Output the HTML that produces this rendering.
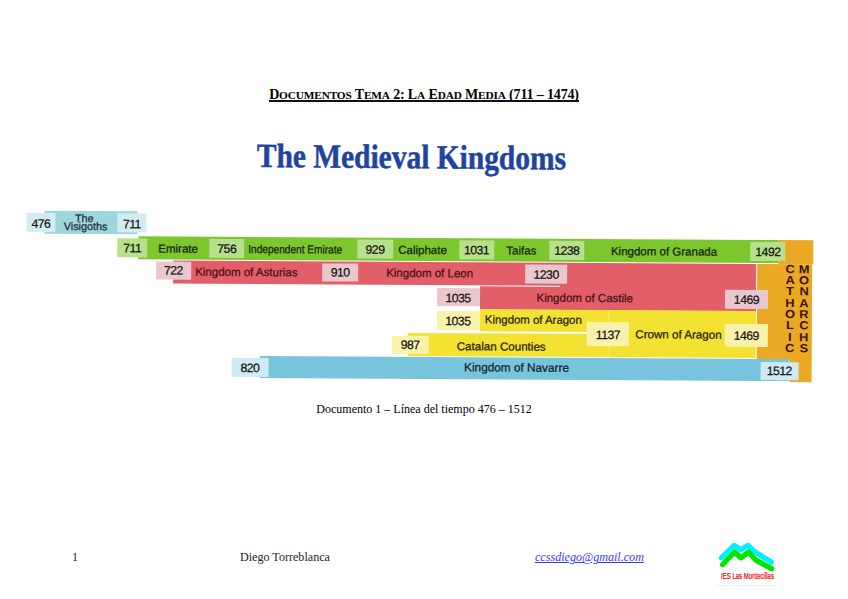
<!DOCTYPE html>
<html><head><meta charset="utf-8">
<style>
*{margin:0;padding:0;box-sizing:border-box}
html,body{width:848px;height:599px;background:#fff;overflow:hidden}
body{position:relative;font-family:"Liberation Serif",serif;color:#000}
.a{position:absolute}
#hdr{left:0;width:848px;top:86.8px;text-align:center;font-weight:bold;font-size:14px;letter-spacing:-0.15px;white-space:nowrap}
#hdr s{text-decoration:none;font-size:11.3px}
#title{left:257.2px;top:136.6px;font-family:"Liberation Serif",serif;font-weight:bold;font-size:34px;color:#1f44a0;-webkit-text-stroke:0.5px #1f44a0;white-space:nowrap;transform-origin:0 0;transform:rotate(0.45deg) scaleX(0.866)}
#chart{left:0;top:0;width:848px;height:599px;transform:rotate(0.33deg);transform-origin:424px 300px}
.b{position:absolute}
.t{position:absolute;font-family:"Liberation Sans",sans-serif;font-size:11.5px;color:#141414;-webkit-text-stroke:0.25px #141414;white-space:nowrap;line-height:1;margin-top:0.9px}
.n{position:absolute;font-family:"Liberation Sans",sans-serif;font-size:12.2px;letter-spacing:-0.5px;color:#141414;-webkit-text-stroke:0.25px #141414;display:flex;align-items:center;justify-content:center;line-height:1;padding-top:1.2px}
#cap{left:0;width:848px;top:402px;text-align:center;font-size:12px;white-space:nowrap}
.f{position:absolute;font-size:12.1px;white-space:nowrap;top:550.2px;color:#262626}
</style></head><body>
<div class="a" id="hdr">D<s>OCUMENTOS</s> T<s>EMA</s> 2: L<s>A</s> E<s>DAD</s> M<s>EDIA</s> (711 – 1474)</div>
<div class="a" style="left:269px;top:100.1px;width:310px;height:1.5px;background:#111"></div>
<div class="a" id="title">The Medieval Kingdoms</div>

<div class="a" id="chart">
<!-- orange -->
<div class="b" style="left:777.5px;top:238.4px;width:35px;height:24px;background:#eaa823"></div>
<div class="b" style="left:756.8px;top:262px;width:55.6px;height:94.5px;background:#eaa823"></div>
<div class="b" style="left:789.7px;top:356px;width:22.7px;height:23.8px;background:#eaa823"></div>
<div class="a" style="left:784.6px;top:260.8px;width:10px;font-family:'Liberation Sans',sans-serif;font-weight:bold;font-size:11.7px;line-height:11.3px;text-align:center;color:#3a1410;transform:scaleX(1.1)">C<br>A<br>T<br>H<br>O<br>L<br>I<br>C</div>
<div class="a" style="left:798.7px;top:260.8px;width:10px;font-family:'Liberation Sans',sans-serif;font-weight:bold;font-size:11.7px;line-height:11.3px;text-align:center;color:#3a1410;transform:scaleX(1.1)">M<br>O<br>N<br>A<br>R<br>C<br>H<br>S</div>
<!-- Visigoths -->
<div class="b" style="left:44px;top:213px;width:93px;height:22.6px;background:#9dd7dc"></div>
<div class="n" style="left:26px;top:215px;width:29px;height:18.5px;background:#d2ecf1;padding-top:4.4px">476</div>
<div class="n" style="left:117px;top:215px;width:29px;height:18.5px;background:#d2ecf1;padding-top:4.4px">711</div>
<div class="t" style="left:74.5px;top:215.3px;font-size:10.8px;margin-top:0;color:#1d2c36;-webkit-text-stroke:0.25px #1d2c36">The</div>
<div class="t" style="left:63.4px;top:223.1px;font-size:10.8px;margin-top:0;color:#1d2c36;-webkit-text-stroke:0.25px #1d2c36">Visigoths</div>

<!-- green -->
<div class="b" style="left:137.5px;top:237.8px;width:640px;height:23px;background:#7cc62e"></div>
<div class="n" style="left:117px;top:239.9px;height:19.6px;width:30px;background:#b8e08a">711</div>
<div class="n" style="left:209px;top:239.9px;height:19.6px;width:35px;background:#b8e08a">756</div>
<div class="n" style="left:357px;top:239.9px;height:19.6px;width:35.5px;background:#b8e08a">929</div>
<div class="n" style="left:458.7px;top:239.9px;height:19.6px;width:35.3px;background:#b8e08a">1031</div>
<div class="n" style="left:548.7px;top:239.9px;height:19.6px;width:35.8px;background:#b8e08a">1238</div>
<div class="n" style="left:749.9px;top:239.9px;height:19.6px;width:35.5px;background:#b8e08a">1492</div>
<div class="t" style="left:158px;top:244px;color:#14240a;-webkit-text-stroke:0.25px #14240a">Emirate</div>
<div class="t" style="left:248px;top:244px;transform:scaleX(0.879);transform-origin:0 0;color:#14240a;-webkit-text-stroke:0.25px #14240a">Independent Emirate</div>
<div class="t" style="left:398px;top:244px;color:#14240a;-webkit-text-stroke:0.25px #14240a">Caliphate</div>
<div class="t" style="left:506px;top:244px;color:#14240a;-webkit-text-stroke:0.25px #14240a">Taifas</div>
<div class="t" style="left:610.7px;top:244px;color:#14240a;-webkit-text-stroke:0.25px #14240a">Kingdom of Granada</div>

<!-- red -->
<div class="b" style="left:172.5px;top:261.6px;width:388px;height:23px;background:#e25e69"></div>
<div class="b" style="left:479.5px;top:285.8px;width:276.5px;height:22.8px;background:#e25e69"></div>
<div class="b" style="left:560px;top:261.6px;width:196px;height:47px;background:#e25e69"></div>
<div class="n" style="left:155.5px;top:262.5px;width:35.5px;height:18.5px;background:#e9c7cd">722</div>
<div class="n" style="left:322px;top:263.5px;width:36px;height:18.5px;background:#e9c7cd">910</div>
<div class="n" style="left:525px;top:264px;width:42px;height:18.5px;background:#e9c7cd">1230</div>
<div class="n" style="left:436.5px;top:287.8px;width:43px;height:18.5px;background:#e9c7cd">1035</div>
<div class="n" style="left:725.2px;top:288.2px;width:42.5px;height:18.5px;background:#e9c7cd">1469</div>
<div class="t" style="left:195px;top:267px;color:#4a1016;-webkit-text-stroke:0.25px #4a1016">Kingdom of Asturias</div>
<div class="t" style="left:386px;top:267px;color:#4a1016;-webkit-text-stroke:0.25px #4a1016">Kingdom of Leon</div>
<div class="t" style="left:536.5px;top:291px;color:#4a1016;-webkit-text-stroke:0.25px #4a1016">Kingdom of Castile</div>

<!-- yellow -->
<div class="b" style="left:479.5px;top:309.3px;width:130px;height:21.8px;background:#f4e233"></div>
<div class="b" style="left:407.5px;top:333.1px;width:202px;height:23.2px;background:#f4e233"></div>
<div class="b" style="left:609px;top:308.9px;width:147px;height:47px;background:#f4e233"></div>
<div class="b" style="left:608.3px;top:309px;width:0.8px;height:47px;background:#f7eb7a"></div>
<div class="n" style="left:436.5px;top:311px;width:43px;height:18.8px;background:#f9f2ac">1035</div>
<div class="n" style="left:392px;top:335.6px;width:36.7px;height:18.2px;background:#f9f2ac">987</div>
<div class="n" style="left:587px;top:321.4px;width:42.2px;height:23.8px;background:#f9f2ac">1137</div>
<div class="n" style="left:725px;top:322px;width:43px;height:23.2px;background:#f9f2ac">1469</div>
<div class="t" style="left:485px;top:313.6px;font-size:11.4px;color:#262208;-webkit-text-stroke:0.25px #262208">Kingdom of Aragon</div>
<div class="t" style="left:457px;top:339.6px;font-size:11.6px;color:#262208;-webkit-text-stroke:0.25px #262208">Catalan Counties</div>
<div class="t" style="left:635.5px;top:326.6px;font-size:11.6px;color:#262208;-webkit-text-stroke:0.25px #262208">Crown of Aragon</div>

<!-- blue -->
<div class="b" style="left:259.5px;top:356.7px;width:530px;height:22.8px;background:#77c4dc"></div>
<div class="n" style="left:232px;top:359px;width:36.7px;height:19px;background:#cfeaf2">820</div>
<div class="n" style="left:761px;top:360px;width:37.5px;height:18px;background:#cfeaf2">1512</div>
<div class="t" style="left:464.5px;top:361.6px;font-size:11.8px;color:#12222c;-webkit-text-stroke:0.25px #12222c">Kingdom of Navarre</div>

</div>

<div class="a" id="cap">Documento 1 – Línea del tiempo 476 – 1512</div>
<div class="f" style="left:72px">1</div>
<div class="f" style="left:240px">Diego Torreblanca</div>
<div class="f" style="left:535px;color:#3b3bff;font-style:italic;text-decoration:underline">ccssdiego@gmail.com</div>
<svg class="a" style="left:0;top:0" width="848" height="599" viewBox="0 0 848 599">
<polyline points="721.4,557.8 734.2,545.4 740.5,549.7 748.2,545.4 754.5,551.6 771.2,562.1" fill="none" stroke="#00f0ff" stroke-width="5.3" stroke-linecap="round" stroke-linejoin="round"/>
<polyline points="722.6,564.5 734.6,552 740.8,557.8 748.6,552 756,560.2 771.6,568.7" fill="none" stroke="#00e600" stroke-width="5.4" stroke-linecap="round" stroke-linejoin="round"/>
<line x1="715" y1="585.3" x2="778" y2="585.3" stroke="#eee" stroke-width="1"/>
</svg>
<div class="a" style="left:720.6px;top:571px;font-family:'Liberation Sans',sans-serif;font-size:8.4px;color:#ee0000;-webkit-text-stroke:0.2px #ee0000;white-space:nowrap;transform-origin:0 0;transform:scaleX(0.72)">IES Las Montecillas</div>
</body></html>
